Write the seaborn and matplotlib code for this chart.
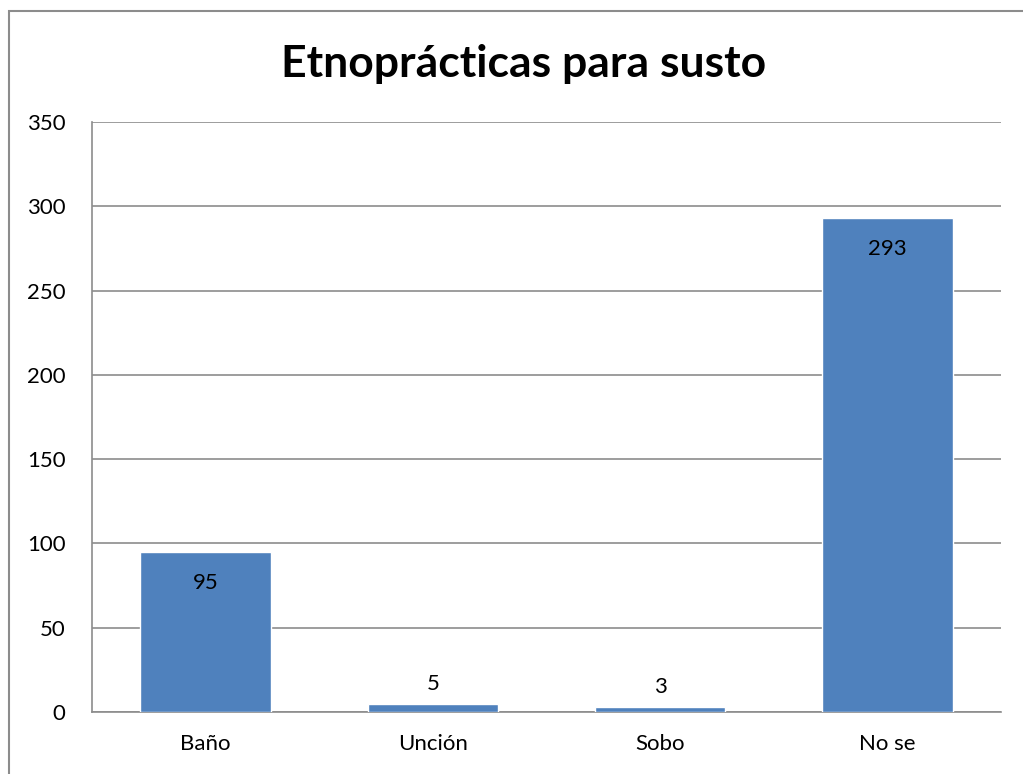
import matplotlib
matplotlib.use("Agg")
import matplotlib.pyplot as plt
import seaborn as sns
import pandas as pd
from matplotlib.patches import Rectangle

categories = ["Baño", "Unción", "Sobo", "No se"]
values = [95, 5, 3, 293]
y_ticks = [0, 50, 100, 150, 200, 250, 300, 350]
title = "Etnoprácticas para susto"

sns.set_theme(style="white")
plt.rcParams["font.family"] = ["Lato", "DejaVu Sans"]

df = pd.DataFrame({"cat": categories, "val": values})

fig = plt.figure(figsize=(10.23, 7.74), dpi=100)
ax = fig.add_axes([92 / 1023, 1 - 712 / 774, (1001 - 92) / 1023, (712 - 122) / 774])

sns.barplot(data=df, x="cat", y="val", color="#4F81BD", saturation=1,
            width=0.575, ax=ax, zorder=3)

ax.set_ylim(0, 350)
ax.set_yticks(y_ticks)
ax.set_xlim(-0.5, len(categories) - 0.5)
ax.yaxis.grid(True, color="#8C8C8C", linewidth=1.2, zorder=0)
ax.set_axisbelow(True)
ax.set_xlabel("")
ax.set_ylabel("")
ax.tick_params(axis="both", length=0, labelsize=16, colors="black")
ax.tick_params(axis="y", pad=19)
ax.tick_params(axis="x", pad=16)
for s in ["top", "right"]:
    ax.spines[s].set_visible(False)
for s in ["left", "bottom"]:
    ax.spines[s].set_color("#8C8C8C")
    ax.spines[s].set_linewidth(1.2)

# value labels: inside the top of tall bars, above short ones
for i, v in enumerate(values):
    if v > 50:
        ax.annotate(str(v), (i, v), xytext=(0, -15), textcoords="offset points",
                    ha="center", va="top", fontsize=16, color="black", zorder=5)
    else:
        ax.annotate(str(v), (i, v), xytext=(0, 7), textcoords="offset points",
                    ha="center", va="bottom", fontsize=16, color="black", zorder=5)

fig.text(524 / 1023, 1 - 77 / 774, title, ha="center", va="baseline",
         fontsize=32, fontweight="bold", color="black")

fig.patches.append(Rectangle((8.5 / 1023, -0.05), 1.2, 1 - 10.5 / 774 + 0.05,
                             transform=fig.transFigure, fill=False,
                             edgecolor="#8C8C8C", linewidth=1.5))

fig.savefig("out.png", dpi=100)
